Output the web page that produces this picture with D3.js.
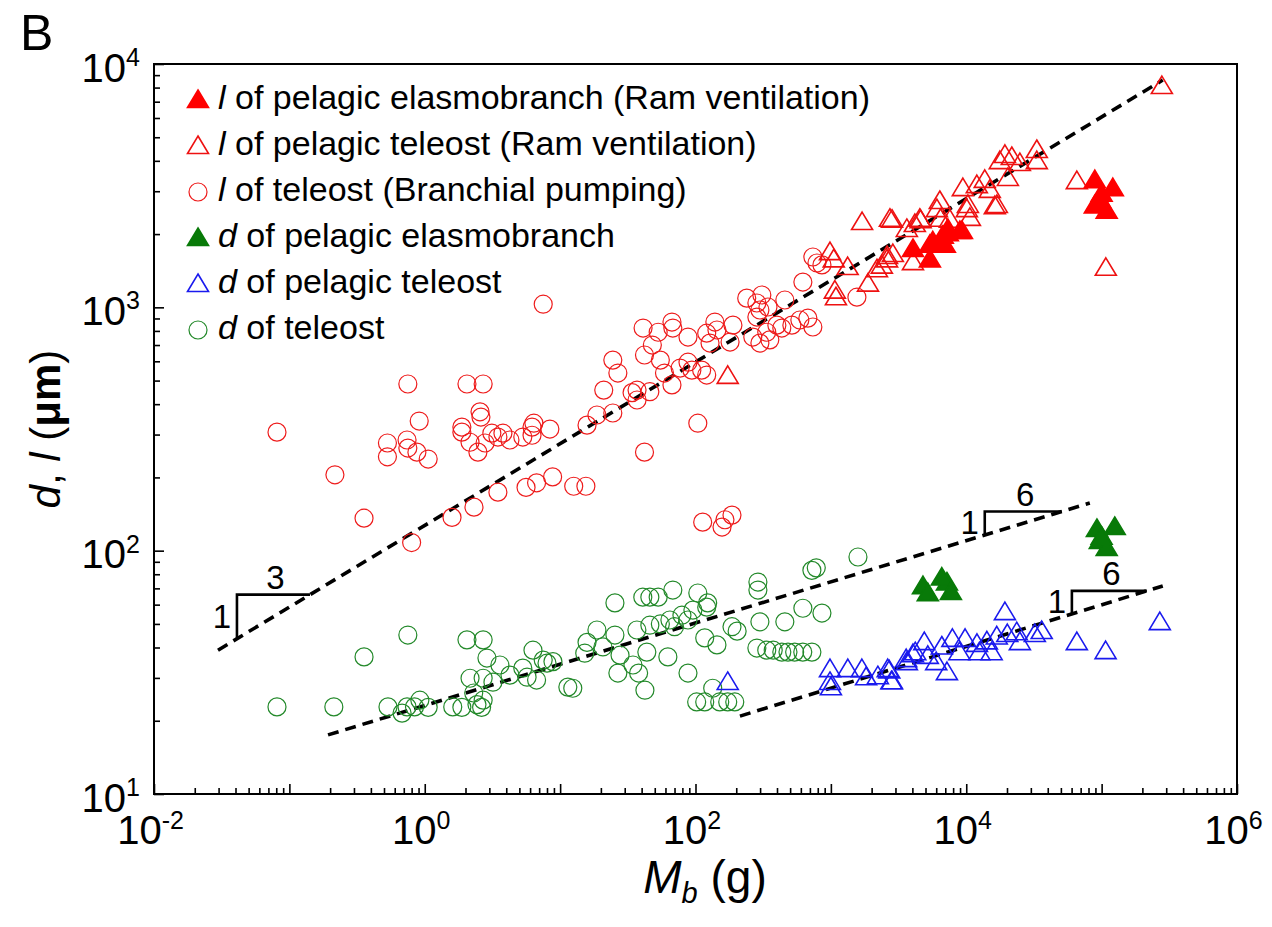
<!DOCTYPE html>
<html>
<head>
<meta charset="utf-8">
<script src="https://cdn.jsdelivr.net/npm/d3@7"></script>
<style>
  body { margin: 0; background: #fff; }
  svg { display: block; font-family: "Liberation Sans", Arial, sans-serif; }
</style>
</head>
<body>
<div id="plot"></div>
<script>
// values: [body mass Mb (g), size (um)]

const lPelagicElasmo = [
  [4040,1720],[5390,1560],[5390,1790],[5660,1850],[6710,1950],[6950,1790],[7310,2000],
  [7310,2080],[8970,2040],[9290,2040],[89100,3300],[121000,3060],[97000,2740],[89100,2600],
  [109000,2470],[100000,2900]
];

const lPelagicTeleost = [
  [173,518],[985,1670],[1050,1560],[1070,1160],[1090,1090],[1330,1450],[1700,2220],[1880,1240],
  [2190,1420],[2600,1560],[2600,1610],[2380,1470],[2730,2290],[2830,2270],[2870,1640],[3640,2080],
  [4040,1520],[4170,2180],[4540,2290],[4600,2260],[6070,2510],[6380,2710],[6460,2290],[7570,2270],
  [9440,3060],[10100,2510],[10280,2610],[10640,2310],[11970,3150],[13700,3310],[14930,3010],
  [16260,2580],[16830,2610],[17700,3950],[19300,4190],[20300,3370],[21700,4110],[24900,3880],
  [33200,4390],[33200,3950],[65600,3270],[107400,1440],[278600,8040]
];

const lTeleost = [
  [0.081,307],[0.217,205],[0.356,136],[0.80,108],[0.75,484],[2.05,484],[2.7,484],[0.91,341],
  [0.53,277],[0.53,243],[0.74,285],[0.75,264],[0.875,254],[1.06,238],[2.56,372],[2.6,354],
  [1.88,322],[1.88,307],[2.16,279],[2.47,254],[2.79,277],[3.13,304],[3.47,293],[3.78,304],
  [4.26,285],[5.3,293],[6.2,322],[6.4,334],[6.2,298],[8.4,316],[7.5,1030],[1.59,137],
  [2.31,151],[3.47,174],[5.6,182],[6.7,190],[8.8,201],[12.6,184],[15.5,184],[15.8,328],
  [18.7,361],[21,457],[24.5,607],[24.5,368],[26.7,537],[34,446],[37,457],[37,416],[46,450],
  [42,254],[41,822],[48,700],[42,637],[53,790],[55,607],[59,537],[67,870],[68,822],[67,480],
  [77,563],[88,755],[88,595],[94,552],[111,552],[121,527],[104,334],[121,783],[139,870],
  [144,807],[128,713],[189,845],[180,720],[239,1091],[284,1042],[309,1124],[299,975],
  [343,1003],[284,912],[265,755],[299,713],[336,790],[354,735],[399,845],[457,1072],[434,822],
  [515,845],[590,887],[676,903],[736,830],[621,1270],[736,1610],[789,1521],[859,1494],
  [1557,1101],[113,131],[157,125],[186,140],[165,134]
];

const dPelagicElasmo = [
  [4790,70.8],[7200,73.3],[6600,76.8],[5200,66.3],[7700,67],
  [92300,121.6],[125000,124],[97000,108.6],[109000,101.6],[100000,113]
];

const dPelagicTeleost = [
  [173,28.6],[985,32.3],[1334,32.3],[1694,32.3],[985,28.6],[1000,27.2],[1820,29.9],[2223,30.2],
  [2630,32.3],[2830,28.8],[3640,34.5],[4040,37.2],[19300,55.4],[65600,41.7],[107000,38.3],
  [269000,50.4],[36100,46.3],[32100,45],[23600,45.8],[20100,45],[16800,44],[14200,42],
  [12000,41],[9800,43],[7900,43],[6600,40],[4900,41.7],[5200,36.6],[4200,37.9],[7200,31.4],
  [6000,34.5],[8900,37.9],[12500,37.9],[15400,37.9],[2700,31.9],[2800,28.8],[3600,35.5],
  [24900,41.7]
];

const dTeleost = [
  [0.081,22.8],[0.213,22.8],[0.356,36.6],[0.75,45],[0.535,22.8],[0.68,21.5],[0.74,22.8],
  [0.92,24.3],[0.84,22.8],[1.06,22.7],[1.61,22.8],[1.88,22.7],[2.43,23.3],[2.63,22.7],
  [2.7,24.3],[2.05,43],[2.7,43],[2.88,36.2],[2.16,29.9],[2.7,29.9],[3.59,33.9],[3.19,28.8],
  [4.26,30.8],[5.3,32.9],[6.3,39],[6.7,29.4],[5.7,30.2],[7.5,35.5],[8.85,35],[11.4,27.5],
  [2.3,26],[8,34.5],[12.4,27.2],[15.2,37.9],[15.8,42],[18.7,47.2],[20.7,40.2],[25.4,45],
  [25.4,61],[27.7,37.2],[26.7,31.4],[34.5,33.9],[38,31.4],[36.9,47.2],[42.3,26.7],[43.7,38.3],
  [40.8,64.4],[46,64.4],[53,64.4],[68,68.9],[46,49.4],[55,50],[64.7,51.9],[70,48.7],
  [79.4,54.3],[88,51.9],[95.7,57],[104,67],[121,58.6],[123,61],[62.5,36.6],[88,31.4],
  [117,43.8],[144,41],[134,27.2],[102,23.9],[117,23.9],[151,23.9],[173,23.9],[195,23.9],
  [186,48.7],[203,46.7],[289,74.3],[289,68.9],[299,51],[284,39.8],[336,39],[375,39],
  [434,38.3],[482,38.3],[540,38.3],[620,38.3],[724,38.3],[457,51],[621,58],[859,55.4],
  [724,83],[780,85],[1585,94.2]
];

// power-law fits, given by their two end points
const fitL = [[0.0297, 39], [283000, 8590]];
const fitDTeleost = [[0.193, 17.5], [81800, 157]];
const fitDPelagic = [[213, 20.9], [283000, 71.6]];

// slope triangles sitting on the fits
const slopeMarks = [
  {fit: fitL, m1: 0.041, m2: 0.142, run: "3"},
  {fit: fitDTeleost, m1: 13700, m2: 50800, run: "6"},
  {fit: fitDPelagic, m1: 60300, m2: 216000, run: "6"}
];

const majorX = [1e-2, 1e-1, 1e0, 1e1, 1e2, 1e3, 1e4, 1e5, 1e6];
const labelX = [1e-2, 1e0, 1e2, 1e4, 1e6];
const majorY = [1e1, 1e2, 1e3, 1e4];

const legendItems = [
  {sym: "l", text: " of pelagic elasmobranch (Ram ventilation)"},
  {sym: "l", text: " of pelagic teleost (Ram ventilation)"},
  {sym: "l", text: " of teleost (Branchial pumping)"},
  {sym: "d", text: " of pelagic elasmobranch"},
  {sym: "d", text: " of pelagic teleost"},
  {sym: "d", text: " of teleost"}
];

const w = 1272, h = 927;
const margin = {top: 64, right: 35, bottom: 133, left: 154};

const svg = d3.select("#plot").append("svg")
    .attr("width", w)
    .attr("height", h);

const x = d3.scaleLog().domain([1e-2, 1e6]).range([margin.left, w - margin.right]);
const y = d3.scaleLog().domain([10, 1e4]).range([h - margin.bottom, margin.top]);

const minor = (lo, hi) => {
  const out = [];
  for (let e = lo; e < hi; e++)
    for (let k = 2; k <= 9; k++) out.push(k * Math.pow(10, e));
  return out;
};

// x axis ticks (inward)
svg.append("g")
    .attr("transform", `translate(0,${y.range()[0]})`)
    .call(d3.axisBottom(x).tickValues(minor(-2, 6)).tickSize(-6).tickSizeOuter(0).tickFormat(""))
    .call(g => g.select(".domain").remove());

svg.append("g")
    .attr("class", "xAxis")
    .attr("transform", `translate(0,${y.range()[0]})`)
    .call(d3.axisBottom(x).tickValues(majorX).tickSize(-10).tickSizeOuter(0).tickPadding(22).tickFormat(""))
    .call(g => g.select(".domain").remove());

svg.append("g")
    .attr("transform", `translate(${x.range()[0]},0)`)
    .call(d3.axisLeft(y).tickValues(minor(1, 4)).tickSize(-6).tickSizeOuter(0).tickFormat(""))
    .call(g => g.select(".domain").remove());

svg.append("g")
    .attr("class", "yAxis")
    .attr("transform", `translate(${x.range()[0]},0)`)
    .call(d3.axisLeft(y).tickValues(majorY).tickSize(-10).tickSizeOuter(0).tickPadding(14).tickFormat(""))
    .call(g => g.select(".domain").remove());

svg.selectAll(".tick line").attr("stroke", "#000").attr("stroke-width", 1.6);

const powLabel = (sel) => sel.each(function(d) {
  const t = d3.select(this).attr("font-size", 40).attr("fill", "#000")
      .attr("font-family", "Liberation Sans, Arial, sans-serif");
  t.append("tspan").text("10");
  t.append("tspan").attr("font-size", 25).attr("dy", "-0.62em").text(Math.round(Math.log10(d)));
});

svg.selectAll(".xAxis .tick")
    .filter(d => labelX.includes(d))
    .select("text").attr("dx", -4).call(powLabel);

svg.selectAll(".yAxis .tick text").attr("dy", 17).call(powLabel);

// frame
svg.append("rect")
    .attr("x", x.range()[0])
    .attr("y", y.range()[1])
    .attr("width", x.range()[1] - x.range()[0])
    .attr("height", y.range()[0] - y.range()[1])
    .attr("fill", "none")
    .attr("stroke", "#000")
    .attr("stroke-width", 2);

// fits
const line = d3.line().x(d => x(d[0])).y(d => y(d[1]));
[fitL, fitDTeleost, fitDPelagic].forEach(f => {
  svg.append("path")
      .attr("d", line(f))
      .attr("fill", "none")
      .attr("stroke", "#000")
      .attr("stroke-width", 3.6)
      .attr("stroke-dasharray", "11,7");
});

const along = (fit, m) => {
  const [a, b] = fit;
  const t = (Math.log10(m) - Math.log10(a[0])) / (Math.log10(b[0]) - Math.log10(a[0]));
  return Math.pow(10, Math.log10(a[1]) + t * (Math.log10(b[1]) - Math.log10(a[1])));
};

slopeMarks.forEach(s => {
  const x1 = x(s.m1), x2 = x(s.m2);
  const y1 = y(along(s.fit, s.m1)), y2 = y(along(s.fit, s.m2));
  svg.append("path")
      .attr("d", `M${x1},${y1}V${y2}H${x2}`)
      .attr("fill", "none")
      .attr("stroke", "#000")
      .attr("stroke-width", 2.6);
  svg.append("text")
      .attr("x", x1 - 15).attr("y", (y1 + y2) / 2 + 11)
      .attr("text-anchor", "middle").attr("font-size", 33)
      .text("1");
  svg.append("text")
      .attr("x", (x1 + x2) / 2 + 2).attr("y", y2 - 6)
      .attr("text-anchor", "middle").attr("font-size", 33)
      .text(s.run);
});

// markers
const tri = "M0,-11L10.5,6.5L-10.5,6.5Z";

const drawCircles = (data, color) => svg.append("g").selectAll("circle")
    .data(data).enter().append("circle")
    .attr("cx", d => x(d[0])).attr("cy", d => y(d[1]))
    .attr("r", 9)
    .attr("fill", "none").attr("stroke", color).attr("stroke-width", 1.2);

const drawTris = (data, color, filled) => svg.append("g").selectAll("path")
    .data(data).enter().append("path")
    .attr("d", tri)
    .attr("transform", d => `translate(${x(d[0])},${y(d[1])})`)
    .attr("fill", filled ? color : "none")
    .attr("stroke", color).attr("stroke-width", 1.6);

drawCircles(lTeleost, "#ee1c1c");
drawCircles(dTeleost, "#23892a");
drawTris(dPelagicTeleost, "#1a1aee", false);
drawTris(lPelagicTeleost, "#ee1111", false);
drawTris(lPelagicElasmo, "#ff0000", true);
drawTris(dPelagicElasmo, "#087a08", true);

// legend
const legendStyle = [
  {shape: "tri", color: "#ff0000", filled: true},
  {shape: "tri", color: "#ee1111", filled: false},
  {shape: "circle", color: "#ee1c1c", filled: false},
  {shape: "tri", color: "#087a08", filled: true},
  {shape: "tri", color: "#1a1aee", filled: false},
  {shape: "circle", color: "#23892a", filled: false}
];

const legend = svg.append("g");
legendItems.forEach((item, i) => {
  const cy = 100 + i * 46;
  const st = legendStyle[i];
  if (st.shape === "tri") {
    legend.append("path").attr("d", tri)
        .attr("transform", `translate(198,${cy + 1})`)
        .attr("fill", st.filled ? st.color : "none")
        .attr("stroke", st.color).attr("stroke-width", 1.6);
  } else {
    legend.append("circle").attr("cx", 198).attr("cy", cy).attr("r", 9)
        .attr("fill", "none").attr("stroke", st.color).attr("stroke-width", 1.2);
  }
  const t = legend.append("text").attr("x", 218).attr("y", cy + 9).attr("font-size", 34);
  t.append("tspan").attr("font-style", "italic").text(item.sym);
  t.append("tspan").text(item.text);
});

// axis titles
const xt = svg.append("text")
    .attr("x", 705)
    .attr("y", 893)
    .attr("text-anchor", "middle")
    .attr("font-size", 46);
xt.append("tspan").attr("font-style", "italic").text("M");
xt.append("tspan").attr("font-style", "italic").attr("font-size", 29).attr("dy", 10).text("b");
xt.append("tspan").attr("dy", -10).text(" (g)");

const yt = svg.append("text")
    .attr("transform", `translate(60,${(y.range()[0] + y.range()[1]) / 2}) rotate(-90)`)
    .attr("text-anchor", "middle")
    .attr("font-size", 42);
yt.append("tspan").attr("font-style", "italic").text("d");
yt.append("tspan").text(", ");
yt.append("tspan").attr("font-style", "italic").text("l");
yt.append("tspan").text(" (");
yt.append("tspan").attr("font-weight", "bold").text("μm");
yt.append("tspan").text(")");

svg.append("text")
    .attr("x", 20).attr("y", 50)
    .attr("font-size", 50)
    .text("B");
</script>
</body>
</html>
